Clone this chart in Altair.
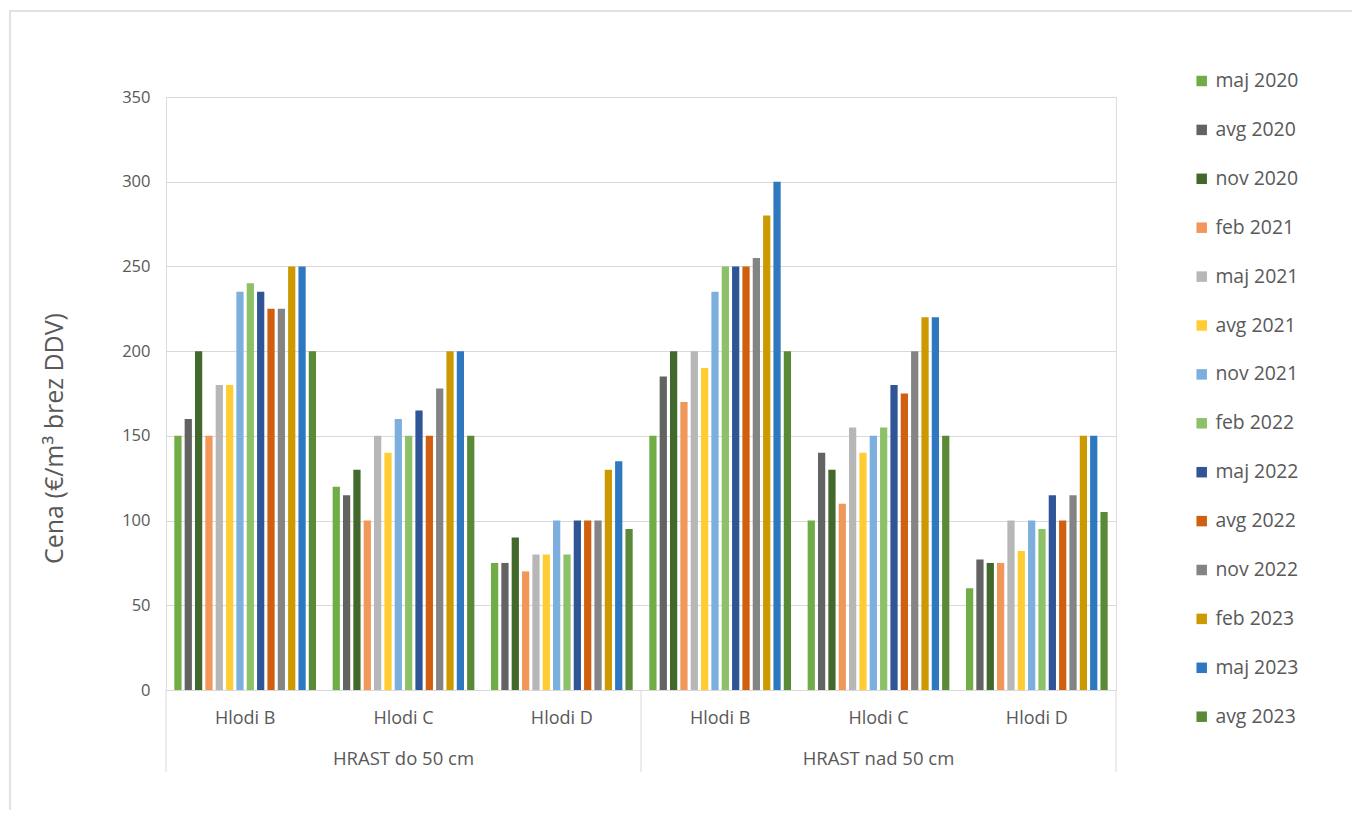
import altair as alt
import pandas as pd

series = ["maj 2020", "avg 2020", "nov 2020", "feb 2021", "maj 2021", "avg 2021",
          "nov 2021", "feb 2022", "maj 2022", "avg 2022", "nov 2022", "feb 2023",
          "maj 2023", "avg 2023"]
colors = ["#70AD47", "#636363", "#43682B", "#F1975A", "#B7B7B7", "#FFCD33",
          "#7CAFDD", "#8CC168", "#2F5597", "#D0600F", "#848484", "#CC9900",
          "#2E78C0", "#5A8A38"]

sections = ["HRAST do 50 cm", "HRAST nad 50 cm"]
groups = ["Hlodi B", "Hlodi C", "Hlodi D"]

do_B = [150, 160, 200, 150, 180, 180, 235, 240, 235, 225, 225, 250, 250, 200]
do_C = [120, 115, 130, 100, 150, 140, 160, 150, 165, 150, 178, 200, 200, 150]
do_D = [75, 75, 90, 70, 80, 80, 100, 80, 100, 100, 100, 130, 135, 95]
nad_B = [150, 185, 200, 170, 200, 190, 235, 250, 250, 250, 255, 280, 300, 200]
nad_C = [100, 140, 130, 110, 155, 140, 150, 155, 180, 175, 200, 220, 220, 150]
nad_D = [60, 77, 75, 75, 100, 82, 100, 95, 115, 100, 115, 150, 150, 105]

values = {
    (sections[0], groups[0]): do_B,
    (sections[0], groups[1]): do_C,
    (sections[0], groups[2]): do_D,
    (sections[1], groups[0]): nad_B,
    (sections[1], groups[1]): nad_C,
    (sections[1], groups[2]): nad_D,
}

rows = []
keys = []
for s in sections:
    for g in groups:
        key = s + "|" + g
        keys.append(key)
        for name, v in zip(series, values[(s, g)]):
            rows.append({"key": key, "series": name, "value": v})
df = pd.DataFrame(rows)

# section boundaries / centres on a group-index scale
n = len(groups)
sec_df = pd.DataFrame({
    "label": sections,
    "center": [i * n + n / 2 for i in range(len(sections))],
})
bound_df = pd.DataFrame({"pos": [i * n for i in range(len(sections) + 1)]})

FONT = "Open Sans"
GREY = "#595959"
W, H = 950, 593

bars = alt.Chart(df).mark_bar().encode(
    x=alt.X("key:N", sort=keys,
            scale=alt.Scale(domain=keys, paddingInner=0.105, paddingOuter=0.0525),
            axis=alt.Axis(title=None, labelExpr="split(datum.label, '|')[1]",
                          labelAngle=0, ticks=False, tickSize=0, domain=True,
                          domainColor="#D9D9D9", domainWidth=1, labelPadding=19.5,
                          labelFontSize=18, labelColor=GREY, labelFont=FONT,
                          grid=False)),
    xOffset=alt.XOffset("series:N", sort=series,
                        scale=alt.Scale(domain=series, paddingInner=0.3, paddingOuter=0)),
    y=alt.Y("value:Q",
            scale=alt.Scale(domain=[0, 350], nice=False),
            axis=alt.Axis(title="Cena (€/m³ brez DDV)", values=list(range(0, 351, 50)),
                          ticks=False, tickSize=0, domain=False, grid=True,
                          gridColor="#D9D9D9", gridWidth=1, labelPadding=16,
                          labelFontSize=16.5, labelColor=GREY, labelFont=FONT,
                          titleFontSize=25, titleFont=FONT, titleColor=GREY,
                          titleFontWeight="normal", titleX=-112, titleY=341,
                          titleAngle=270, titleAlign="center", titleBaseline="middle")),
    color=alt.Color("series:N", sort=series,
                    scale=alt.Scale(domain=series, range=colors),
                    legend=alt.Legend(title=None, orient="none", legendX=1026, legendY=-25.7,
                                      symbolType="square", symbolSize=110,
                                      symbolStrokeWidth=0, labelFontSize=19.4,
                                      labelColor=GREY, labelFont=FONT, labelOffset=4,
                                      rowPadding=27.9, padding=0)),
)

rules = alt.Chart(bound_df).mark_rule(color="#D9D9D9", strokeWidth=1).encode(
    x=alt.X("pos:Q", scale=alt.Scale(domain=[0, len(keys)], nice=False), axis=None),
    y=alt.value(H),
    y2=alt.value(H + 82),
)

sec_text = alt.Chart(sec_df).mark_text(font=FONT, fontSize=18.5, color=GREY,
                                       baseline="middle", align="center").encode(
    x=alt.X("center:Q", scale=alt.Scale(domain=[0, len(keys)], nice=False), axis=None),
    y=alt.value(H + 69),
    text="label:N",
)

border = alt.Chart(pd.DataFrame({"b": [0]})).mark_rect(
    fillOpacity=0, stroke="#D9D9D9", strokeWidth=1.5).encode(
    x=alt.value(-156), x2=alt.value(1300), y=alt.value(-86), y2=alt.value(900),
)

chart = alt.layer(
    border,
    bars,
    alt.layer(rules, sec_text),
).resolve_scale(x="independent").properties(
    width=W, height=H,
    autosize=alt.AutoSizeParams(type="none"),
    padding={"left": 158, "top": 89, "right": 236, "bottom": 120},
).configure_view(stroke=None).configure(background="white")

chart.save("out.html", embed_options={"renderer": "svg", "actions": False})
